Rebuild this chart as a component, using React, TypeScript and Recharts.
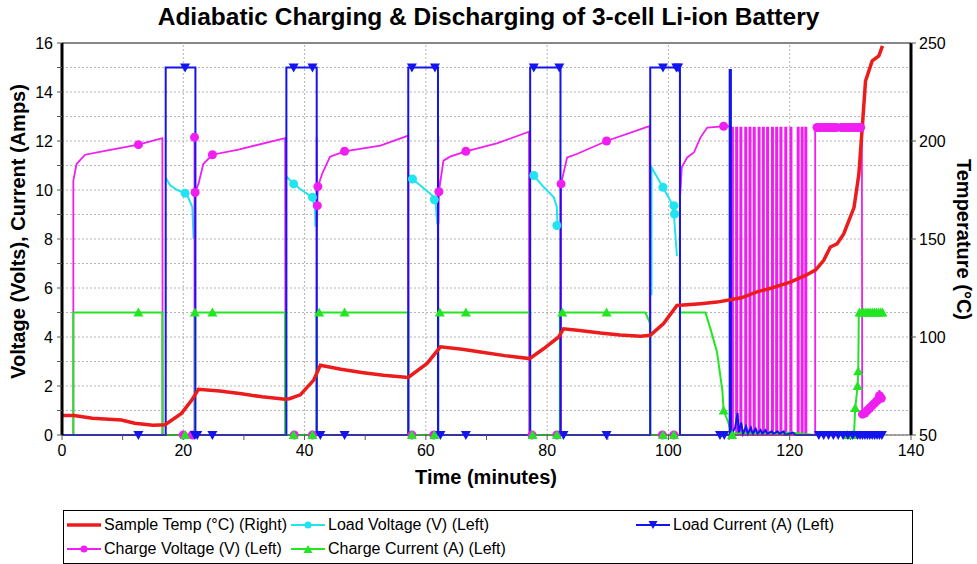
import { ComposedChart, Line, XAxis, YAxis, CartesianGrid, ReferenceLine } from 'recharts';

// time (minutes), value
const sampleTemp: number[][] = [
    [0, 60], [2, 60], [5, 58.5], [9.8, 57.6], [12, 56], [15, 55], [17, 55.2], [19.7, 61], [21.4, 67.8],
    [22.5, 73.3], [26, 72.5], [29.6, 71], [33, 69.5], [36.8, 68.3], [37.5, 68.5], [39.3, 70.5], [41.5, 78],
    [42.6, 85.6], [46, 83.5], [49.7, 81.8], [53, 80.5], [57.1, 79.4], [60.2, 86.5], [62.4, 95], [66, 93.8],
    [69, 92.4], [73, 90.5], [77.1, 89], [79.4, 94], [81.9, 100], [82.7, 104.2], [85, 103.5], [88.8, 102],
    [92, 101], [95.4, 100.4], [97, 100.9], [99.2, 106.9], [101.4, 116.1], [103.6, 116.6], [105.3, 117],
    [108, 117.8], [110.2, 119], [112, 120], [114.6, 123], [117, 125], [120.1, 128], [122.6, 131.4],
    [124.3, 134.3], [125.6, 139.1], [126.7, 145.9], [127.8, 147.5], [128.9, 152.6], [130.6, 166],
    [131.4, 183], [132, 208.6], [132.5, 230.6], [133.6, 240.9], [134.7, 243.4], [135.3, 248.5],
];

const loadVoltage: (number | null)[][] = [
    [17.1, 10.5], [17.8, 10.2], [19.0, 10.0], [20.3, 9.87], [20.8, 9.7], [21.5, 9.3], [21.7, 8.0], [21.75, null],
    [37.0, 10.55], [38.2, 10.25], [39.5, 10.0], [41.3, 9.7], [41.7, 9.2], [41.8, 8.5], [41.85, null],
    [57.2, 10.6], [57.8, 10.45], [59.5, 10.1], [61.4, 9.7], [61.6, 9.5], [61.9, 8.6], [61.95, null],
    [77.3, 10.72], [77.8, 10.59], [79.5, 10.1], [81.1, 9.7], [81.6, 9.3], [81.7, 8.55], [81.75, null],
    [97.2, 5.7], [97.2, 10.93], [99.1, 10.11], [100.6, 9.43], [100.9, 9.02], [101.4, 7.3],
];
const loadVoltageMarks: number[][] = [
    [20.3, 9.87], [38.2, 10.25], [41.3, 9.7], [57.8, 10.45], [61.4, 9.6], [77.8, 10.59], [81.6, 8.55],
    [99.1, 10.11], [100.9, 9.36], [101.0, 9.02],
];

const loadCurrent: number[][] = [
    [0, 0], [17.1, 0], [17.1, 15], [22.0, 15], [22.0, 0], [37.0, 0], [37.0, 15], [42.0, 15], [42.0, 0],
    [57.1, 0], [57.1, 15], [62.0, 15], [62.0, 0], [77.2, 0], [77.2, 15], [82.2, 15], [82.2, 0],
    [97.0, 0], [97.0, 15], [101.9, 15], [101.9, 0], [110.1, 0], [110.1, 14.9], [110.3, 14.9], [110.3, 0],
    [111.0, 0.3], [111.4, 0.9], [111.6, 0.1], [112.0, 0.5], [112.3, 0.05], [112.8, 0.35], [113.1, 0.05],
    [113.6, 0.3], [113.9, 0.05], [114.4, 0.25], [114.7, 0.05], [115.2, 0.2], [115.5, 0.05], [116.0, 0.2],
    [116.3, 0.05], [117.0, 0.15], [117.3, 0.05], [118.0, 0.15], [118.3, 0.05], [119.0, 0.15], [119.3, 0],
    [120.5, 0.1], [121.0, 0], [135.5, 0],
];
const loadCurrentMarks: number[][] = [
    [12.6, 0], [20.3, 15], [21.9, 0], [22.3, 0], [24.8, 0], [38.2, 15], [41.3, 15], [42.6, 0], [46.6, 0],
    [57.7, 15], [61.5, 15], [62.4, 0], [66.6, 0], [77.8, 15], [82.0, 15], [82.7, 0], [89.8, 0],
    [99.1, 15], [101.3, 15], [101.6, 15], [108.5, 0], [109.2, 0], [124.8, 0], [125.6, 0], [126.4, 0],
    [127.2, 0], [128.0, 0], [128.8, 0], [129.6, 0], [130.4, 0], [131.2, 0], [131.6, 0], [132.0, 0],
    [132.4, 0], [132.8, 0], [133.2, 0], [133.6, 0], [134.0, 0], [134.4, 0], [134.8, 0], [135.2, 0],
];

const chargeVoltage: number[][] = [
    [0, 0], [1.87, 0], [1.87, 10.38], [2.4, 11.06], [3.8, 11.44], [7.1, 11.6], [12.6, 11.85], [16.55, 12.12],
    [16.6, 0], [21.85, 0], [21.85, 12.15], [21.9, 8.0], [21.95, 9.9], [22.5, 10.25], [23.3, 11.06],
    [24.8, 11.44], [29.1, 11.65], [36.8, 12.12], [36.85, 0], [42.0, 0], [42.0, 12.15], [42.05, 8.48],
    [42.1, 9.36], [42.2, 10.14], [42.9, 10.66], [44.2, 11.36], [46.6, 11.58], [52.5, 11.81], [57.1, 12.22],
    [57.15, 0], [62.05, 0], [62.05, 12.2], [62.1, 8.62], [62.15, 9.93], [62.9, 11.2], [64.0, 11.36],
    [66.6, 11.58], [71.7, 11.9], [77.0, 12.38], [77.05, 0], [82.3, 0], [82.3, 10.25], [83.3, 11.33],
    [84.9, 11.47], [89.8, 12.0], [96.5, 12.58], [96.9, 12.6], [96.95, 0], [101.9, 0], [101.9, 12.6],
    [101.95, 9.8], [102.2, 10.93], [103.1, 11.33], [104.2, 11.53], [105.3, 12.15], [106.4, 12.55],
    [109.1, 12.6], [110.2, 12.6], [110.25, 0],
];
// short pulses back to full charge voltage during the cycling phase [start, end]
const chargePulses: number[][] = [
    [110.45, 110.65], [111.15, 111.35], [111.85, 112.05], [112.65, 112.85], [113.35, 113.55],
    [114.05, 114.25], [114.85, 115.05], [115.55, 115.75], [116.25, 116.45], [117.05, 117.25],
    [117.75, 117.95], [118.45, 118.65], [119.25, 119.45], [120.1, 120.3], [121.3, 121.5],
    [121.95, 122.15], [122.55, 122.75],
];
const chargeVoltageTail: number[][] = [
    [124.2, 0], [124.2, 12.55], [131.9, 12.55], [131.95, 0.8], [133.0, 1.0], [134.0, 1.3], [134.6, 1.45],
    [134.8, 1.83], [135.0, 1.5], [135.3, 1.56],
];
const chargeVoltageMarks: number[][] = [
    [12.6, 11.85], [20.0, 0], [21.5, 0], [21.85, 12.15], [21.95, 9.9], [24.8, 11.44], [38.3, 0], [41.3, 0],
    [42.1, 9.36], [42.2, 10.14], [46.6, 11.58], [57.7, 0], [61.3, 0], [62.15, 9.93], [66.6, 11.58],
    [77.5, 0], [81.6, 0], [82.3, 10.25], [89.8, 12.0], [99.0, 0], [100.9, 0], [109.1, 12.6],
    [124.5, 12.55], [124.9, 12.55], [125.3, 12.55], [125.7, 12.55], [126.1, 12.55], [126.5, 12.55],
    [126.9, 12.55], [127.3, 12.55], [127.7, 12.55], [128.5, 12.55], [128.9, 12.55], [129.3, 12.55],
    [129.7, 12.55], [130.1, 12.55], [130.5, 12.55], [130.9, 12.55], [131.3, 12.55], [131.7, 12.55],
    [132.0, 0.85], [132.4, 0.9], [132.8, 1.0], [133.2, 1.1], [133.6, 1.2], [134.0, 1.3], [134.4, 1.4],
    [134.8, 1.6], [135.1, 1.5],
];

const chargeCurrent: number[][] = [
    [0, 0], [1.87, 0], [1.87, 5], [16.55, 5], [16.55, 0], [21.9, 0], [21.9, 5], [36.8, 5], [36.8, 0],
    [42.0, 0], [42.0, 5], [57.1, 5], [57.1, 0], [62.05, 0], [62.05, 5], [77.2, 5], [77.2, 0], [82.1, 0],
    [82.1, 5], [96.2, 5], [97.0, 4.55], [97.0, 0], [101.9, 0], [101.9, 5], [106.1, 5], [107.0, 4.27],
    [108.0, 3.4], [108.9, 1.8], [109.1, 1.0], [109.9, 0.5], [110.3, 0.1], [111.0, 0.05], [112.0, 0.1],
    [114.0, 0.05], [116.0, 0.1], [118.0, 0.05], [120.0, 0.1], [122.0, 0.05], [124.0, 0], [130.6, 0],
    [130.8, 1.1], [131.2, 2.0], [131.3, 2.6], [131.4, 5], [135.5, 5],
];
const chargeCurrentMarks: number[][] = [
    [12.6, 5], [20.3, 0], [21.9, 5], [24.8, 5], [38.2, 0], [41.3, 0], [42.4, 5], [46.6, 5], [57.7, 0],
    [61.4, 0], [62.3, 5], [66.6, 5], [77.6, 0], [81.6, 0], [82.5, 5], [89.8, 5], [99.1, 0], [100.9, 0],
    [109.1, 1.0], [110.5, 0], [129.5, 0], [130.4, 0], [130.8, 1.1], [131.2, 2.0], [131.3, 2.6],
    [131.5, 5], [131.85, 5], [132.2, 5], [132.55, 5], [132.9, 5], [133.25, 5], [133.6, 5], [133.95, 5],
    [134.3, 5], [134.65, 5], [135.0, 5], [135.3, 5],
];

const xTicks = [0, 10, 20, 30, 40, 50, 60, 70, 80, 90, 100, 110, 120, 130, 140];
const xGrid = [20, 40, 60, 80, 100, 120];
const leftTicks = [0, 1, 2, 3, 4, 5, 6, 7, 8, 9, 10, 11, 12, 13, 14, 15, 16];
const rightTicks = [50, 100, 150, 200, 250];

const RED = '#ec1c1c';
const CYAN = '#22e4f0';
const BLUE = '#1414ee';
const MAGENTA = '#f01ef0';
const GREEN = '#22e622';
const FONT = "'Liberation Sans', Arial, sans-serif";

const rows = (pts: (number | null)[][]) => pts.map(([t, v]) => ({ t, v }));

const pulseRows = () => {
    const out: { t: number, v: number }[] = [];
    chargePulses.forEach(([a, b]) => {
        out.push({ t: a, v: 0 }, { t: a, v: 12.55 }, { t: b, v: 12.55 }, { t: b, v: 0 });
    });
    return out;
};

const chargeVoltageRows = [...rows(chargeVoltage), ...pulseRows(), ...rows(chargeVoltageTail)];

const circleDot = (color: string) => (p: any) =>
    <circle key={`c${p.index}`} cx={p.cx} cy={p.cy} r={4.5} fill={color} />;

const upTri = (color: string) => (p: any) =>
    <path key={`u${p.index}`} d={`M${p.cx - 5},${p.cy + 4} L${p.cx + 5},${p.cy + 4} L${p.cx},${p.cy - 5} Z`} fill={color} />;

const downTri = (color: string) => (p: any) =>
    <path key={`d${p.index}`} d={`M${p.cx - 5},${p.cy - 4} L${p.cx + 5},${p.cy - 4} L${p.cx},${p.cy + 5} Z`} fill={color} />;

const tickStyle = { fontSize: 16, fill: '#000', fontFamily: FONT };

const Swatch = ({ color, marker, width }: { color: string, marker?: string, width?: number }) =>
    <svg width={34} height={14} style={{ verticalAlign: 'middle' }}>
        <line x1={0} x2={34} y1={7} y2={7} stroke={color} strokeWidth={width ?? 2} />
        {marker === 'circle' && <circle cx={17} cy={7} r={3.5} fill={color} />}
        {marker === 'up' && <path d="M12.5,11 L21.5,11 L17,3 Z" fill={color} />}
        {marker === 'down' && <path d="M12.5,3 L21.5,3 L17,11 Z" fill={color} />}
    </svg>;

const LegendItem = ({ x, y, color, marker, width, label }: any) =>
    <div style={{ position: 'absolute', left: x, top: y, display: 'flex', alignItems: 'center', whiteSpace: 'nowrap' }}>
        <Swatch color={color} marker={marker} width={width} />
        <span style={{ marginLeft: 3 }}>{label}</span>
    </div>;

const App = () => {
    return <div style={{ position: 'absolute', left: 0, top: 0, width: 977, height: 564, background: '#fff', fontFamily: FONT, overflow: 'hidden' }}>
        <div style={{ position: 'absolute', left: 0, width: 977, top: 3, textAlign: 'center', fontWeight: 'bold', fontSize: 24.5 }}>
            Adiabatic Charging &amp; Discharging of 3-cell Li-ion Battery
        </div>
        <div style={{ position: 'absolute', left: 0, top: 0 }}>
            <ComposedChart width={977} height={564} margin={{ top: 43, right: 6, bottom: 99, left: 2 }}>
                <CartesianGrid yAxisId="left" vertical={false} stroke="#b4b4b4" strokeDasharray="2 2" />
                {xGrid.map(x => <ReferenceLine key={x} x={x} yAxisId="left" stroke="#b4b4b4" strokeDasharray="2 2" />)}
                <ReferenceLine y={16} yAxisId="left" stroke="#888" strokeWidth={2} />
                <XAxis type="number" dataKey="t" domain={[0, 140]} ticks={xTicks} allowDataOverflow height={30}
                    tickFormatter={(v) => v % 20 === 0 ? String(v) : ''} tick={tickStyle} tickSize={5} tickMargin={5}
                    axisLine={{ stroke: '#555' }} tickLine={{ stroke: '#555' }} />
                <YAxis yAxisId="left" type="number" domain={[0, 16]} ticks={leftTicks} width={60} interval={0}
                    tickFormatter={(v) => v % 2 === 0 ? String(v) : ''} tick={tickStyle} tickSize={5} tickMargin={4}
                    axisLine={{ stroke: '#000', strokeWidth: 3 }} tickLine={{ stroke: '#555' }} />
                <YAxis yAxisId="right" orientation="right" type="number" domain={[50, 250]} ticks={rightTicks} width={60}
                    tick={tickStyle} tickSize={5} tickMargin={3}
                    axisLine={{ stroke: '#000', strokeWidth: 3 }} tickLine={{ stroke: '#555' }} />

                <Line data={rows(loadVoltage)} dataKey="v" yAxisId="left" type="linear" stroke={CYAN} strokeWidth={2}
                    dot={false} activeDot={false} isAnimationActive={false} />
                <Line data={rows(loadVoltageMarks)} dataKey="v" yAxisId="left" stroke="none" dot={circleDot(CYAN)}
                    activeDot={false} isAnimationActive={false} />
                <Line data={chargeVoltageRows} dataKey="v" yAxisId="left" type="linear" stroke={MAGENTA} strokeWidth={1.8}
                    dot={false} activeDot={false} isAnimationActive={false} />
                <Line data={rows(chargeVoltageMarks)} dataKey="v" yAxisId="left" stroke="none" dot={circleDot(MAGENTA)}
                    activeDot={false} isAnimationActive={false} />
                <Line data={rows(chargeCurrent)} dataKey="v" yAxisId="left" type="linear" stroke={GREEN} strokeWidth={2}
                    dot={false} activeDot={false} isAnimationActive={false} />
                <Line data={rows(chargeCurrentMarks)} dataKey="v" yAxisId="left" stroke="none" dot={upTri(GREEN)}
                    activeDot={false} isAnimationActive={false} />
                <Line data={rows(loadCurrent)} dataKey="v" yAxisId="left" type="linear" stroke={BLUE} strokeWidth={2}
                    dot={false} activeDot={false} isAnimationActive={false} />
                <Line data={rows(loadCurrentMarks)} dataKey="v" yAxisId="left" stroke="none" dot={downTri(BLUE)}
                    activeDot={false} isAnimationActive={false} />
                <Line data={rows(sampleTemp)} dataKey="v" yAxisId="right" type="linear" stroke={RED} strokeWidth={3.5}
                    dot={false} activeDot={false} isAnimationActive={false} />
            </ComposedChart>
        </div>
        <div style={{ position: 'absolute', left: 18 - 200, top: 232 - 12, width: 400, textAlign: 'center', fontWeight: 'bold', fontSize: 20, transform: 'rotate(-90deg)' }}>
            Voltage (Volts), Current (Amps)
        </div>
        <div style={{ position: 'absolute', left: 963 - 200, top: 240 - 12, width: 400, textAlign: 'center', fontWeight: 'bold', fontSize: 20, transform: 'rotate(90deg)' }}>
            Temperature (°C)
        </div>
        <div style={{ position: 'absolute', left: 0, width: 972, top: 466, textAlign: 'center', fontWeight: 'bold', fontSize: 20 }}>
            Time (minutes)
        </div>
        <div style={{ position: 'absolute', left: 63, top: 510, width: 850, height: 54, border: '1.5px solid #000', boxSizing: 'border-box', fontSize: 16 }}>
            <LegendItem x={3} y={5} color={RED} width={3.5} label="Sample Temp (°C) (Right)" />
            <LegendItem x={227} y={5} color={CYAN} marker="circle" label="Load Voltage (V) (Left)" />
            <LegendItem x={572} y={5} color={BLUE} marker="down" label="Load Current (A) (Left)" />
            <LegendItem x={3} y={29} color={MAGENTA} marker="circle" label="Charge Voltage (V) (Left)" />
            <LegendItem x={227} y={29} color={GREEN} marker="up" label="Charge Current (A) (Left)" />
        </div>
    </div>;
};

export default App;
